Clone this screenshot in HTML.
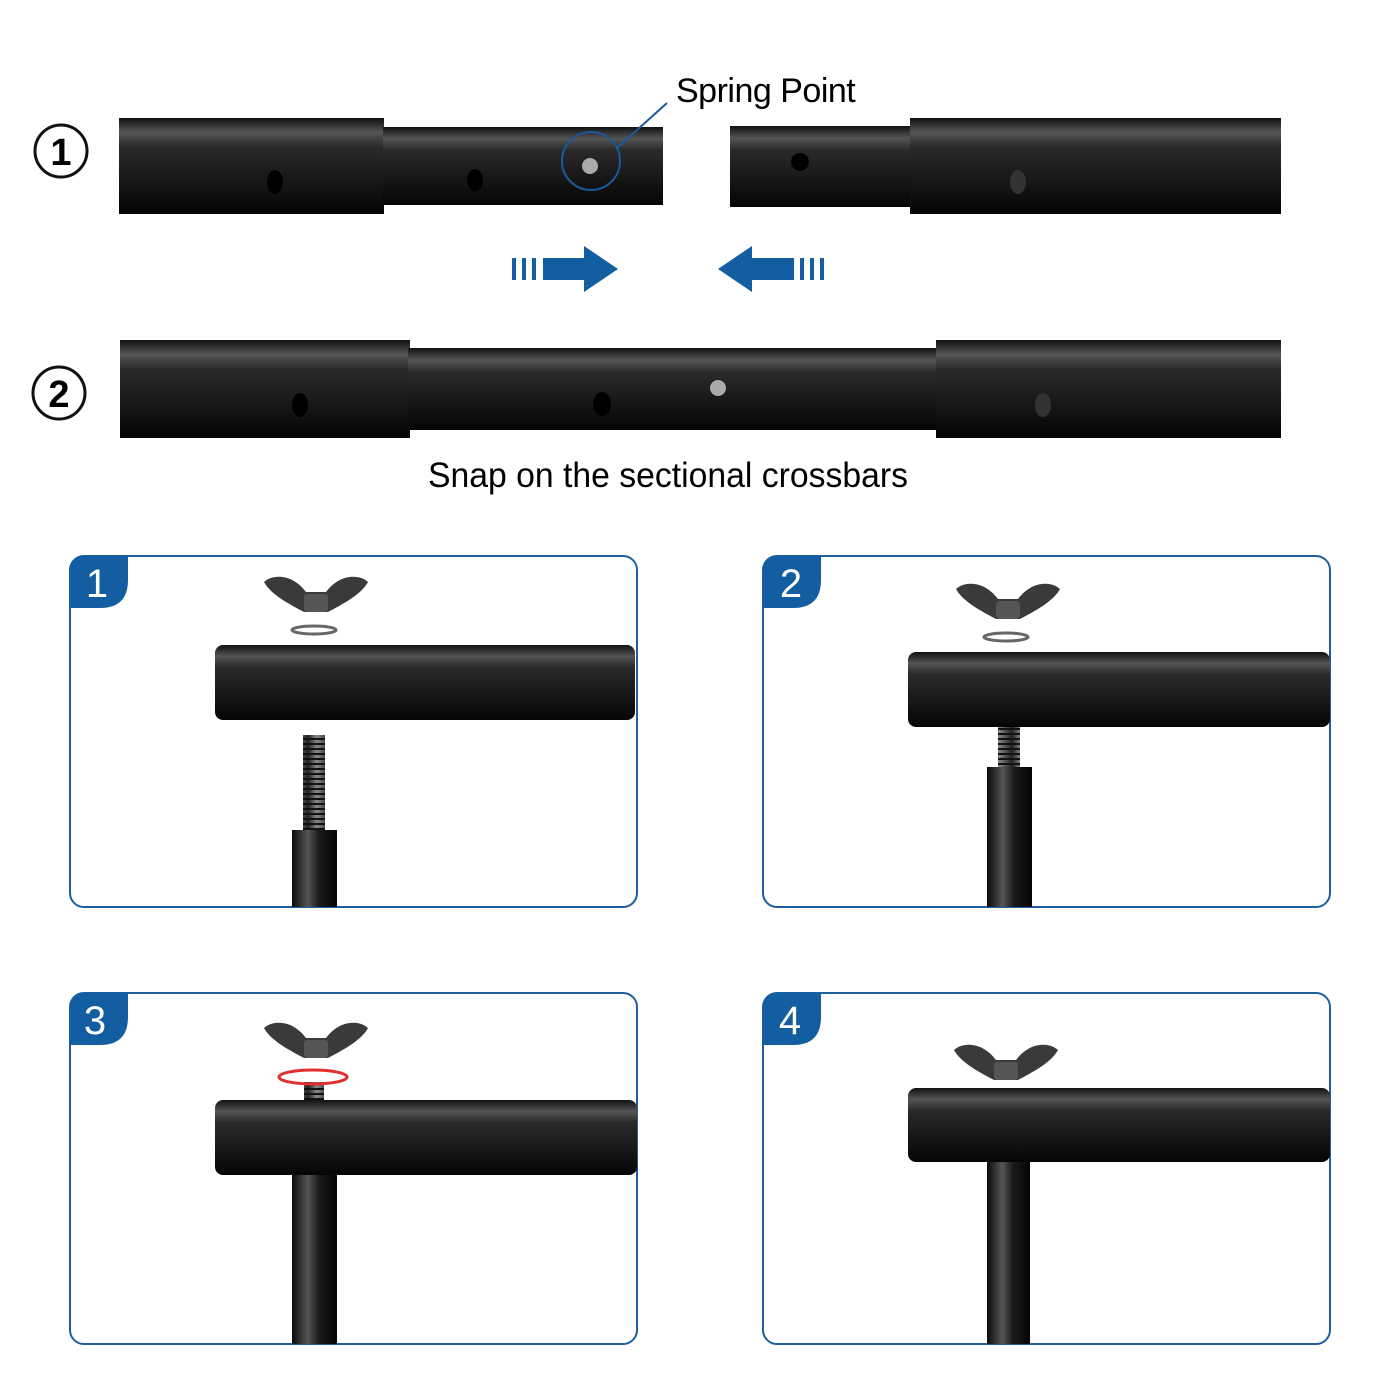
<!DOCTYPE html>
<html><head><meta charset="utf-8"><style>
html,body{margin:0;padding:0;background:#fff}
svg{display:block}
text{font-family:"Liberation Sans",sans-serif}
</style></head><body>
<svg width="1400" height="1400" viewBox="0 0 1400 1400" xmlns="http://www.w3.org/2000/svg">
<defs>
<linearGradient id="tube" x1="0" y1="0" x2="0" y2="1">
<stop offset="0" stop-color="#111"/><stop offset="0.15" stop-color="#555"/><stop offset="0.3" stop-color="#2a2a2a"/><stop offset="0.7" stop-color="#151515"/><stop offset="1" stop-color="#050505"/>
</linearGradient>
<linearGradient id="post" x1="0" y1="0" x2="1" y2="0">
<stop offset="0" stop-color="#0a0a0a"/><stop offset="0.35" stop-color="#555"/><stop offset="0.6" stop-color="#1a1a1a"/><stop offset="1" stop-color="#050505"/>
</linearGradient>
<linearGradient id="bolt" x1="0" y1="0" x2="1" y2="0">
<stop offset="0" stop-color="#222"/><stop offset="0.4" stop-color="#888"/><stop offset="1" stop-color="#222"/>
</linearGradient>
<pattern id="thread" width="22" height="5" patternUnits="userSpaceOnUse"><rect width="22" height="5" fill="url(#bolt)"/><rect y="3" width="22" height="2" fill="#111"/></pattern>
<g id="nut">
<path d="M-10,-8 C-25,-28 -45,-25 -52,-18 C-45,-5 -25,5 -12,12 L12,12 C25,5 45,-5 52,-18 C45,-25 25,-28 10,-8 Z" fill="#3a3a3a"/>
<rect x="-12" y="-6" width="24" height="18" rx="3" fill="#555"/>
</g>
</defs>

<!-- Row 1 -->
<circle cx="61" cy="151" r="26" fill="none" stroke="#111" stroke-width="3"/>
<text x="61" y="165" font-size="38" font-weight="bold" text-anchor="middle">1</text>
<rect x="119" y="118" width="265" height="96" fill="url(#tube)"/>
<rect x="383" y="127" width="280" height="78" fill="url(#tube)"/>
<rect x="730" y="126" width="182" height="81" fill="url(#tube)"/>
<rect x="910" y="118" width="371" height="96" fill="url(#tube)"/>
<ellipse cx="275" cy="182" rx="8" ry="12" fill="#000"/>
<ellipse cx="475" cy="180" rx="8" ry="11" fill="#000"/>
<ellipse cx="1018" cy="182" rx="8" ry="12" fill="#333"/>
<circle cx="800" cy="162" r="9" fill="#000"/>
<circle cx="590" cy="166" r="8" fill="#aaa"/>
<circle cx="591" cy="161" r="29" fill="none" stroke="#1a5a9a" stroke-width="2"/>
<line x1="617" y1="148" x2="667" y2="103" stroke="#1a5a9a" stroke-width="2"/>
<text x="676" y="102" font-size="34" letter-spacing="-0.5">Spring Point</text>

<!-- arrows -->
<g fill="#135da1">
<rect x="512" y="258" width="4" height="22"/><rect x="522" y="258" width="4" height="22"/><rect x="532" y="258" width="4" height="22"/>
<polygon points="543,258 584,258 584,246 618,269 584,292 584,280 543,280"/>
<polygon points="718,269 752,246 752,258 794,258 794,280 752,280 752,292"/>
<rect x="800" y="258" width="4" height="22"/><rect x="810" y="258" width="4" height="22"/><rect x="820" y="258" width="4" height="22"/>
</g>

<!-- Row 2 -->
<circle cx="59" cy="393" r="26" fill="none" stroke="#111" stroke-width="3"/>
<text x="59" y="407" font-size="38" font-weight="bold" text-anchor="middle">2</text>
<rect x="120" y="340" width="290" height="98" fill="url(#tube)"/>
<rect x="408" y="348" width="243" height="82" fill="url(#tube)"/>
<rect x="650" y="348" width="288" height="82" fill="url(#tube)"/>
<rect x="936" y="340" width="345" height="98" fill="url(#tube)"/>
<ellipse cx="300" cy="405" rx="8" ry="12" fill="#000"/>
<ellipse cx="602" cy="404" rx="9" ry="12" fill="#000"/>
<ellipse cx="1043" cy="405" rx="8" ry="12" fill="#333"/>
<circle cx="718" cy="388" r="8" fill="#aaa"/>
<text x="668" y="487" font-size="35" text-anchor="middle" textLength="480" lengthAdjust="spacingAndGlyphs">Snap on the sectional crossbars</text>

<!-- Panels -->
<g fill="none" stroke="#1d5fa0" stroke-width="2">
<rect x="70" y="556" width="567" height="351" rx="14"/>
<rect x="763" y="556" width="567" height="351" rx="14"/>
<rect x="70" y="993" width="567" height="351" rx="14"/>
<rect x="763" y="993" width="567" height="351" rx="14"/>
</g>
<g fill="#135da1">
<path d="M70,570 Q70,556 84,556 L128,556 L128,580 Q128,608 100,608 L70,608 Z"/>
<path d="M763,570 Q763,556 777,556 L821,556 L821,580 Q821,608 793,608 L763,608 Z"/>
<path d="M70,1007 Q70,993 84,993 L128,993 L128,1017 Q128,1045 100,1045 L70,1045 Z"/>
<path d="M763,1007 Q763,993 777,993 L821,993 L821,1017 Q821,1045 793,1045 L763,1045 Z"/>
</g>
<g fill="#fff" font-size="40" text-anchor="middle">
<text x="97" y="597">1</text><text x="791" y="597">2</text><text x="95" y="1034">3</text><text x="790" y="1034">4</text>
</g>

<!-- Panel 1 -->
<rect x="215" y="645" width="420" height="75" rx="8" fill="url(#tube)"/>
<use href="#nut" x="316" y="600"/>
<ellipse cx="314" cy="630" rx="22" ry="4" fill="none" stroke="#666" stroke-width="3"/>
<rect x="303" y="735" width="22" height="95" fill="url(#thread)"/>
<rect x="292" y="830" width="45" height="77" fill="url(#post)"/>

<!-- Panel 2 -->
<rect x="908" y="652" width="422" height="75" rx="8" fill="url(#tube)"/>
<use href="#nut" x="1008" y="607"/>
<ellipse cx="1006" cy="637" rx="22" ry="4" fill="none" stroke="#666" stroke-width="3"/>
<rect x="998" y="727" width="22" height="40" fill="url(#thread)"/>
<rect x="987" y="767" width="45" height="140" fill="url(#post)"/>

<!-- Panel 3 -->
<rect x="215" y="1100" width="422" height="75" rx="8" fill="url(#tube)"/>
<use href="#nut" x="316" y="1046"/>
<rect x="304" y="1082" width="20" height="18" fill="url(#thread)"/>
<ellipse cx="313" cy="1077" rx="34" ry="7" fill="none" stroke="#e03030" stroke-width="3"/>
<rect x="292" y="1175" width="45" height="169" fill="url(#post)"/>

<!-- Panel 4 -->
<rect x="908" y="1088" width="422" height="74" rx="8" fill="url(#tube)"/>
<use href="#nut" x="1006" y="1068"/>
<rect x="987" y="1162" width="43" height="182" fill="url(#post)"/>
</svg>
</body></html>
